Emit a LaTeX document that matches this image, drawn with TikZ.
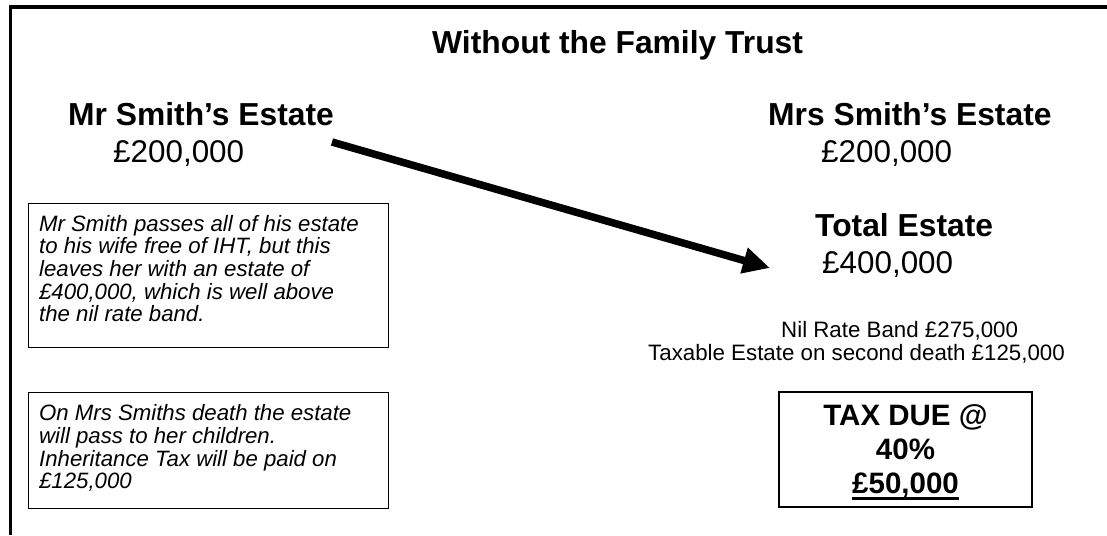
\documentclass[tikz,border=0pt]{standalone}
\usepackage{fontspec}
\setmainfont{Liberation Sans}
\usetikzlibrary{arrows.meta}
\newsavebox\ulbox
\newcommand\ulbar[1]{\leavevmode\sbox\ulbox{#1}\rlap{\rule[-6.5pt]{\wd\ulbox}{3pt}}\usebox\ulbox}
\newcommand\notetext[3]{\parbox[t][#1][t]{339pt}{\raggedright\rule{0pt}{#2}#3}}
\begin{document}
\begin{tikzpicture}[x=1pt,y=-1pt,
  heading/.style={font=\fontsize{31.8}{36}\selectfont\bfseries, inner sep=0pt, anchor=base west},
  amount/.style={font=\fontsize{31.4}{36}\selectfont, inner sep=0pt, anchor=base west},
  small/.style={font=\fontsize{22.3}{25.6}\selectfont, inner sep=0pt, anchor=base west},
  note/.style={draw, line width=1.3pt, font=\fontsize{22.2}{22.7}\selectfont\itshape,
    anchor=north west, inner xsep=10.5pt, inner ysep=0pt},
  taxbox/.style={draw, line width=2pt, font=\fontsize{29.5}{34}\selectfont\bfseries,
    anchor=north west, inner sep=0pt},
  frame/.style={line width=3.5pt},
  bigarrow/.style={line width=7.5pt, -{Triangle[length=27pt,width=25pt]}}]
\useasboundingbox (0,0) rectangle (1107,535);
% frame
\coordinate (fBL) at (10.7,535);
\coordinate (fTL) at (10.7,7);
\coordinate (fTR) at (1107,7);
\draw[frame] (fBL) -- (fTL) -- (fTR);
% title
\node[heading] (title) at (432,53) {Without the Family Trust};
% left estate
\node[heading] (mr) at (68,125) {Mr Smith’s Estate};
\node[amount] (mramt) at (113,162) {£200,000};
% right estate
\node[heading] (mrs) at (768,125) {Mrs Smith’s Estate};
\node[amount] (mrsamt) at (821,162) {£200,000};
\node[heading] (total) at (815,236) {Total Estate};
\node[amount] (totamt) at (822,273) {£400,000};
\node[small] (nrb) at (781,337) {Nil Rate Band £275,000};
\node[small] (taxable) at (648,360) {Taxable Estate on second death £125,000};
% notes
\node[note] (note1) at (28,203)
  {\notetext{144pt}{27.5pt}{Mr Smith passes all of his estate\\to his wife free of IHT, but this\\leaves her with an estate of\\£400,000, which is well above\\the nil rate band.}};
\node[note] (note2) at (28,392)
  {\notetext{116pt}{28pt}{On Mrs Smiths death the estate\\will pass to her children.\\Inheritance Tax will be paid on\\£125,000}};
% tax due
\node[taxbox] (tax) at (778,391)
  {\parbox[t][115pt][t]{253pt}{\centering\rule{0pt}{33pt}TAX DUE @\\40\%\\\ulbar{£50,000}}};
% arrow
\coordinate (arrS) at (332,142);
\coordinate (arrE) at (770,268);
\draw[bigarrow] (arrS) -- (arrE);
\end{tikzpicture}
\end{document}
